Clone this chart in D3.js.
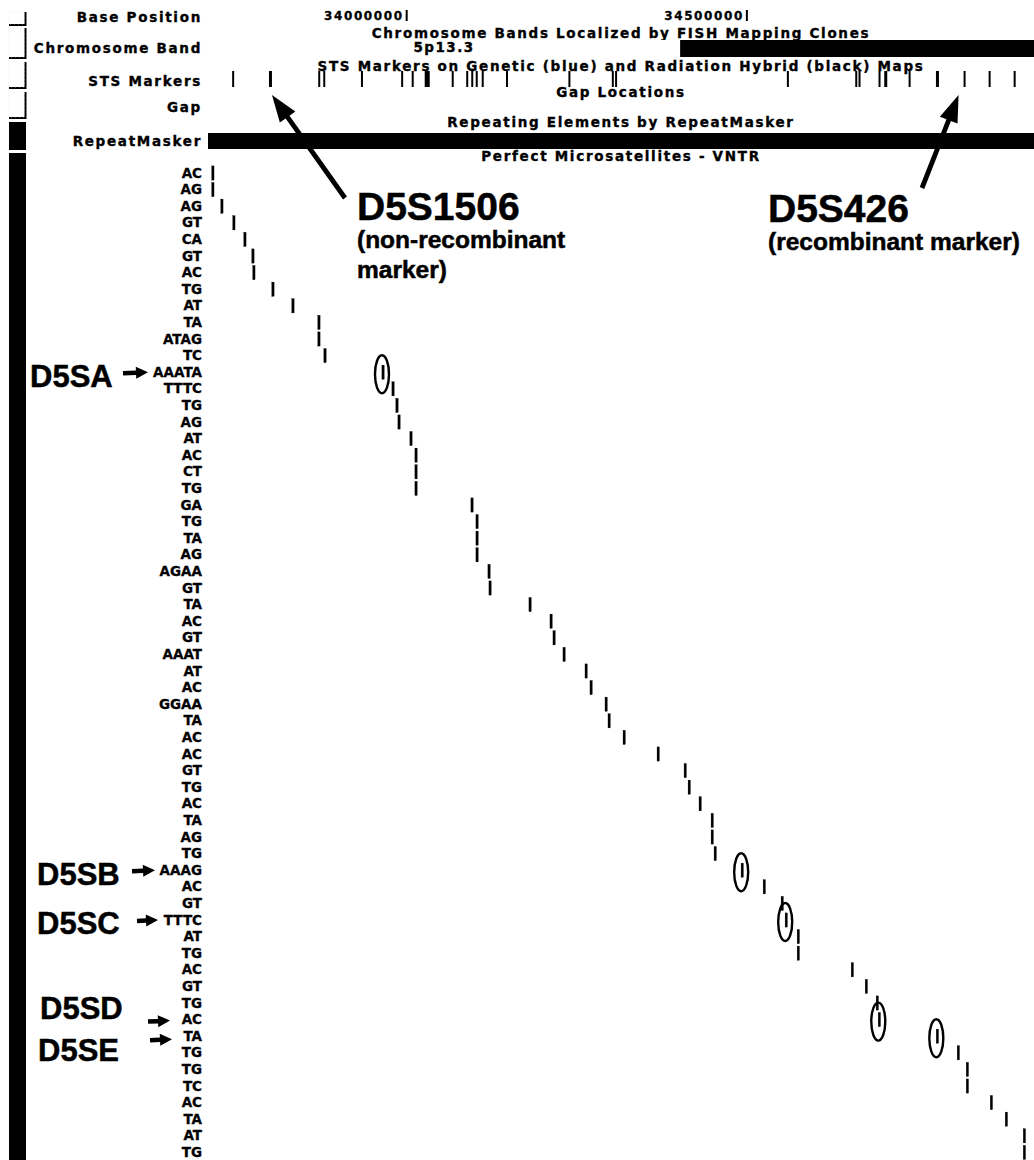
<!DOCTYPE html>
<html lang="en">
<head>
<meta charset="utf-8">
<title>Perfect Microsatellites 5p13</title>
<script src="https://cdn.jsdelivr.net/npm/d3@7"></script>
<style>
  body { margin: 0; background: #fff; }
  svg { display: block; }
  .trk { font-family: "DejaVu Sans", sans-serif; font-weight: bold; font-size: 13.5px; letter-spacing: 1.7px; stroke: #000; stroke-width: 0.35px; }
  .num { font-family: "DejaVu Sans", sans-serif; font-weight: bold; font-size: 12px; letter-spacing: 1.6px; stroke: #000; stroke-width: 0.3px; }
  .ssr { font-family: "DejaVu Sans", sans-serif; font-weight: bold; font-size: 13.5px; stroke: #000; stroke-width: 0.3px; }
  .big { font-family: "Liberation Sans", Arial, sans-serif; font-weight: bold; stroke: #000; stroke-width: 0.5px; }
</style>
</head>
<body>
<script>
// ---- data ----
const viewStart = 33708000, viewEnd = 34922000;
const baseTicks = [34000000, 34500000];

const bandNames = ["5p13.3", "5p13.2"];
const bandStart = [33708000, 34401900];
const bandEnd   = [34401900, 34922000];
const bandDark  = [false, true];

// STS markers: start and length in bp
const stsStart = [33743500, 33797600, 33870000, 33877400, 33932800, 33991900, 34007400, 34026500,
                  34066200, 34087500, 34094900, 34101500, 34110300, 34146000, 34237700, 34301500,
                  34306300, 34558800, 34659300, 34664100, 34693500, 34701900, 34737700, 34777900,
                  34818500, 34855300, 34892100];
const stsLen   = [1500, 4400, 1500, 1500, 1500, 2900, 1500, 7400,
                  1500, 2900, 2900, 2200, 1500, 1500, 1500, 1500,
                  1500, 1500, 1500, 1500, 1500, 4400, 1500, 4400,
                  1500, 1500, 1500];

// perfect microsatellites, one per row
const motifs = ["AC","AG","AG","GT","CA","GT","AC","TG","AT","TA",
                "ATAG","TC","AAATA","TTTC","TG","AG","AT","AC","CT","TG",
                "GA","TG","TA","AG","AGAA","GT","TA","AC","GT","AAAT",
                "AT","AC","GGAA","TA","AC","AC","GT","TG","AC","TA",
                "AG","TG","AAAG","AC","GT","TTTC","AT","TG","AC","GT",
                "TG","AC","TA","TG","TG","TC","AC","TA","AT","TG"];
const motifPos = [33715100, 33715100, 33728400, 33746000, 33762200, 33774000, 33775400, 33803400, 33832800, 33871000,
                  33871000, 33879900, 33965200, 33979900, 33985700, 33988700, 34006300, 34013700, 34013700, 34013700,
                  34096000, 34103400, 34103400, 34103400, 34121000, 34122500, 34181300, 34212200, 34216600, 34231300,
                  34263700, 34271000, 34293100, 34297500, 34319600, 34369600, 34409300, 34415200, 34431300, 34449000,
                  34449000, 34453400, 34493100, 34525500, 34551900, 34557800, 34575500, 34575500, 34654900, 34675500,
                  34691600, 34694600, 34779900, 34810700, 34824000, 34824000, 34859300, 34881300, 34907800, 34907800];

const leftLabels  = ["Base Position", "Chromosome Band", "STS Markers", "Gap", "RepeatMasker"];
const trackTitles = ["Chromosome Bands Localized by FISH Mapping Clones",
                     "STS Markers on Genetic (blue) and Radiation Hybrid (black) Maps",
                     "Gap Locations",
                     "Repeating Elements by RepeatMasker",
                     "Perfect Microsatellites - VNTR"];

// candidate markers (row index into motifs)
const annoNames = ["D5SA", "D5SB", "D5SC", "D5SD", "D5SE"];
const annoRows  = [12, 42, 45, 51, 52];

// STS markers called out
const stsNotes  = ["D5S1506", "D5S426"];
const stsNoteSub = [["(non-recombinant", "marker)"], ["(recombinant marker)"]];
const stsNoteIdx = [1, 24];

// ---- layout ----
const width = 1034, height = 1160;
const svg = d3.select("body").append("svg")
  .attr("width", width).attr("height", height);

svg.append("rect").attr("width", width).attr("height", height).attr("fill", "#fff");

const x = d3.scaleLinear().domain([viewStart, viewEnd]).range([208, 1034]);
const rowStep = 16.6;
const y = d3.scaleBand().domain(d3.range(motifs.length)).range([164.7, 164.7 + motifs.length * rowStep]);

const labelRight = 202;
const leftBase = [22, 53, 86, 112, 146];
const titleBase = [38, 71, 97, 127, 161];

// left control strip
const buttons = [[12, 25], [28, 58], [62, 88], [92, 118]];
buttons.forEach(b => {
  svg.append("path")
    .attr("d", `M9,${b[1]}H25.5V${b[0]}`)
    .attr("fill", "none").attr("stroke", "#000").attr("stroke-width", 2);
  svg.append("rect").attr("x", 9).attr("y", b[0]).attr("width", 15).attr("height", b[1] - b[0] - 1)
    .attr("fill", "none").attr("stroke", "#ddd").attr("stroke-width", 0.6).attr("stroke-dasharray", "1,3");
});
svg.append("rect").attr("x", 9).attr("y", 122).attr("width", 17).attr("height", 28).attr("fill", "#000");
svg.append("rect").attr("x", 9).attr("y", 153).attr("width", 17).attr("height", height - 153).attr("fill", "#000");

// left track labels
svg.selectAll("text.left").data(leftLabels).join("text")
  .attr("class", "trk left")
  .attr("x", labelRight).attr("y", (d, i) => leftBase[i])
  .attr("text-anchor", "end")
  .text(d => d);

// track titles centred over the data area
const midX = (x.range()[0] + x.range()[1]) / 2;
svg.selectAll("text.title").data(trackTitles).join("text")
  .attr("class", "trk title")
  .attr("x", midX).attr("y", (d, i) => titleBase[i])
  .attr("text-anchor", "middle")
  .text(d => d);

// base position ticks
baseTicks.forEach(t => {
  svg.append("text").attr("class", "num")
    .attr("x", x(t) - 3).attr("y", 20).attr("text-anchor", "end")
    .text(t);
  svg.append("line").attr("x1", x(t)).attr("x2", x(t)).attr("y1", 10).attr("y2", 21)
    .attr("stroke", "#000").attr("stroke-width", 2);
});

// chromosome bands
bandNames.forEach((b, i) => {
  svg.append("rect")
    .attr("x", x(bandStart[i])).attr("y", 40)
    .attr("width", x(bandEnd[i]) - x(bandStart[i])).attr("height", 17)
    .attr("fill", bandDark[i] ? "#000" : "#fff");
  if (!bandDark[i]) {
    svg.append("text").attr("class", "trk")
      .attr("x", (x(bandStart[i]) + x(bandEnd[i])) / 2).attr("y", 52)
      .attr("text-anchor", "middle").style("letter-spacing", "1.5px")
      .text(b);
  }
});

// STS markers
svg.selectAll("rect.sts").data(stsStart).join("rect")
  .attr("class", "sts")
  .attr("x", d => x(d))
  .attr("y", 71)
  .attr("width", (d, i) => Math.max(2, x(d + stsLen[i]) - x(d)))
  .attr("height", 16)
  .attr("fill", "#000");

// RepeatMasker coverage
svg.append("rect").attr("x", x(viewStart)).attr("y", 133)
  .attr("width", x(viewEnd) - x(viewStart)).attr("height", 16).attr("fill", "#000");

// microsatellite rows
svg.selectAll("text.ssr").data(motifs).join("text")
  .attr("class", "ssr")
  .attr("x", labelRight).attr("y", (d, i) => y(i) + y.bandwidth() / 2 + 4.6)
  .attr("text-anchor", "end")
  .text(d => d);

svg.selectAll("rect.ssr").data(motifPos).join("rect")
  .attr("class", "ssr")
  .attr("x", d => x(d) - 1.1)
  .attr("y", (d, i) => y(i) + 1.2)
  .attr("width", 2.3)
  .attr("height", 14.2)
  .attr("fill", "#000");

// ---- annotations ----
function arrow(x1, y1, x2, y2, head, hw, sw) {
  const dx = x2 - x1, dy = y2 - y1, len = Math.hypot(dx, dy);
  const ux = dx / len, uy = dy / len, nx = -uy, ny = ux;
  const bx = x2 - ux * head, by = y2 - uy * head;
  const pts = [
    [x1 + nx * sw / 2, y1 + ny * sw / 2],
    [bx + nx * sw / 2, by + ny * sw / 2],
    [bx + nx * hw / 2, by + ny * hw / 2],
    [x2, y2],
    [bx - nx * hw / 2, by - ny * hw / 2],
    [bx - nx * sw / 2, by - ny * sw / 2],
    [x1 - nx * sw / 2, y1 - ny * sw / 2]
  ];
  svg.append("path").attr("d", "M" + pts.map(p => p.join(",")).join("L") + "Z").attr("fill", "#000");
}

// circles around candidate markers
svg.selectAll("ellipse.mark").data(annoRows).join("ellipse")
  .attr("class", "mark")
  .attr("cx", r => x(motifPos[r]) - 1)
  .attr("cy", r => y(r) + y.bandwidth() / 2 + 2)
  .attr("rx", 7).attr("ry", 19)
  .attr("fill", "none").attr("stroke", "#000").attr("stroke-width", 2.4);

// marker labels with little arrows, per-label placement
const annoTextX  = [30, 37, 37, 40, 38];
const annoTextDy = [14.5, 15, 13.5, -1, 25];
const annoArrow  = [[123, 148, 0], [132, 155, 0], [137, 158, 0], [148, 170, 1], [150, 172, 3]];
annoNames.forEach((n, i) => {
  const cy = y(annoRows[i]) + y.bandwidth() / 2;
  svg.append("text").attr("class", "big").style("font-size", "31px")
    .attr("x", annoTextX[i]).attr("y", cy + annoTextDy[i]).text(n);
  const a = annoArrow[i];
  arrow(a[0], cy + a[2] + 1, a[1], cy + a[2], 12, 12, 4.5);
});

// STS callouts
const noteTail = [[345, 198], [922, 188]];
const noteTipDx = [3, -5];
const noteText = [[357, 220], [768, 222]];
stsNotes.forEach((n, i) => {
  const m = stsStart[stsNoteIdx[i]];
  arrow(noteTail[i][0], noteTail[i][1], x(m) + noteTipDx[i], 95, 27, 19, 4.8);
  svg.append("text").attr("class", "big").style("font-size", "39px")
    .attr("x", noteText[i][0]).attr("y", noteText[i][1]).text(n);
  stsNoteSub[i].forEach((s, j) => {
    svg.append("text").attr("class", "big").style("font-size", "24.5px")
      .attr("x", noteText[i][0]).attr("y", noteText[i][1] + 28 + j * 30).text(s);
  });
});
</script>
</body>
</html>
